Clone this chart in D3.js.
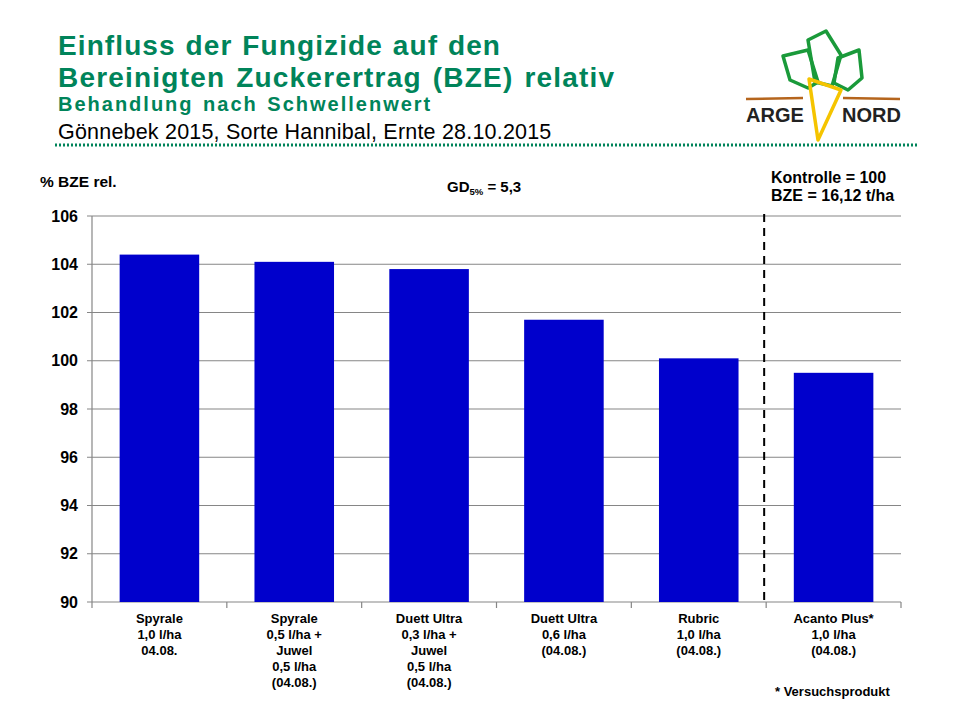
<!DOCTYPE html>
<html>
<head>
<meta charset="utf-8">
<script src="https://cdn.jsdelivr.net/npm/d3@7"></script>
<style>
  body { margin: 0; background: #fff; }
  text { font-family: 'Liberation Sans', Arial, sans-serif; }
</style>
</head>
<body>
<div id="chart"></div>
<script>
const categories = [
  ['Spyrale', '1,0 l/ha', '04.08.'],
  ['Spyrale', '0,5 l/ha +', 'Juwel', '0,5 l/ha', '(04.08.)'],
  ['Duett Ultra', '0,3 l/ha +', 'Juwel', '0,5 l/ha', '(04.08.)'],
  ['Duett Ultra', '0,6 l/ha', '(04.08.)'],
  ['Rubric', '1,0 l/ha', '(04.08.)'],
  ['Acanto Plus*', '1,0 l/ha', '(04.08.)']
]
const values = [104.4, 104.1, 103.8, 101.7, 100.1, 99.5]
const yTicks = [90, 92, 94, 96, 98, 100, 102, 104, 106]

const width = 960
const height = 720
const margin = { top: 216, right: 59, bottom: 118, left: 92 }
const green = '#00845a'

const svg = d3.select('#chart').append('svg')
  .attr('width', width)
  .attr('height', height)

// header (letter spacing to get the wide look of the slide font)
const titles = [
  { t: 'Einfluss der Fungizide auf den', y: 55, size: 28, fill: green, w: 'bold', ls: 1.1, ws: 1 },
  { t: 'Bereinigten Zuckerertrag (BZE) relativ', y: 87, size: 28, fill: green, w: 'bold', ls: 1.2, ws: 2 },
  { t: 'Behandlung nach Schwellenwert', y: 111, size: 20, fill: green, w: 'bold', ls: 2, ws: 2 },
  { t: 'Gönnebek 2015, Sorte Hannibal,  Ernte 28.10.2015', y: 139, size: 21.5, fill: '#000', w: 'normal', ls: 0.2, ws: 0 }
]
svg.selectAll('text.title')
  .data(titles)
  .join('text')
  .attr('class', 'title')
  .attr('x', 58)
  .attr('y', d => d.y)
  .attr('font-size', d => d.size)
  .attr('font-weight', d => d.w)
  .attr('fill', d => d.fill)
  .style('letter-spacing', d => d.ls + 'px')
  .style('word-spacing', d => d.ws + 'px')
  .text(d => d.t)

svg.append('line')
  .attr('x1', 55).attr('x2', 918)
  .attr('y1', 145).attr('y2', 145)
  .attr('stroke', green)
  .attr('stroke-width', 3)
  .attr('stroke-dasharray', '2,2')

// logo
const logo = svg.append('g')
logo.append('path')
  .attr('d', 'M746,99 L803,98 M843,98 L900,99')
  .attr('stroke', '#b5651d').attr('stroke-width', 2.5).attr('fill', 'none')
const leaf = [
  'M783,56 L808,50 L818,82 L808,88 L790,80 Z',
  'M808,40 L826,31 L841,55 L832,86 L815,82 Z',
  'M838,58 L859,50 L862,78 L848,90 L834,83 Z'
]
logo.selectAll('path.leaf')
  .data(leaf)
  .join('path')
  .attr('class', 'leaf')
  .attr('d', d => d)
  .attr('fill', 'none')
  .attr('stroke', '#1a9a3a')
  .attr('stroke-width', 3.5)
  .attr('stroke-linejoin', 'round')
logo.append('path')
  .attr('d', 'M809,79 L841,90 L818,140 Z')
  .attr('fill', 'none')
  .attr('stroke', '#f5c400')
  .attr('stroke-width', 3.5)
  .attr('stroke-linejoin', 'round')
logo.append('text')
  .attr('x', 746).attr('y', 122)
  .attr('font-size', 20).attr('font-weight', 'bold').attr('fill', '#222')
  .text('ARGE')
logo.append('text')
  .attr('x', 842).attr('y', 122)
  .attr('font-size', 20).attr('font-weight', 'bold').attr('fill', '#222')
  .text('NORD')

// chart
const x = d3.scaleBand()
  .domain(d3.range(categories.length))
  .range([margin.left, width - margin.right])
  .paddingInner(0.41)
  .paddingOuter(0.205)

const y = d3.scaleLinear()
  .domain([90, 106])
  .range([height - margin.bottom, margin.top])

const bounds = svg.append('g')

bounds.selectAll('line.grid')
  .data(yTicks)
  .join('line')
  .attr('class', 'grid')
  .attr('x1', margin.left - 5)
  .attr('x2', width - margin.right)
  .attr('y1', d => y(d))
  .attr('y2', d => y(d))
  .attr('stroke', '#868686')
  .attr('stroke-width', 1.2)

bounds.append('line')
  .attr('x1', margin.left).attr('x2', margin.left)
  .attr('y1', y(106)).attr('y2', y(90))
  .attr('stroke', '#868686').attr('stroke-width', 1.2)

bounds.selectAll('text.ytick')
  .data(yTicks)
  .join('text')
  .attr('class', 'ytick')
  .attr('x', margin.left - 14)
  .attr('y', d => y(d) + 5.5)
  .attr('text-anchor', 'end')
  .attr('font-size', 16)
  .attr('font-weight', 'bold')
  .text(d => d)

// category boundary ticks on the x axis
const step = x.step()
const edges = d3.range(categories.length + 1).map(i => margin.left + i * step)
bounds.selectAll('line.xtick')
  .data(edges)
  .join('line')
  .attr('class', 'xtick')
  .attr('x1', d => d).attr('x2', d => d)
  .attr('y1', y(90)).attr('y2', y(90) + 6)
  .attr('stroke', '#868686').attr('stroke-width', 1.2)

bounds.selectAll('rect.bar')
  .data(values)
  .join('rect')
  .attr('class', 'bar')
  .attr('x', (d, i) => x(i))
  .attr('width', x.bandwidth())
  .attr('y', d => y(d))
  .attr('height', d => y(90) - y(d))
  .attr('fill', '#0000cc')

// x labels
const labels = bounds.selectAll('text.xlabel')
  .data(categories)
  .join('text')
  .attr('class', 'xlabel')
  .attr('text-anchor', 'middle')
  .attr('font-size', 13)
  .attr('font-weight', 'bold')
labels.selectAll('tspan')
  .data((d, i) => d.map(t => ({ t, i })))
  .join('tspan')
  .attr('x', d => x(d.i) + x.bandwidth() / 2)
  .attr('y', (d, j) => y(90) + 21 + j * 16)
  .text(d => d.t)

// separator between treatments and trial product
const sepX = edges[5] - 2
bounds.append('line')
  .attr('x1', sepX).attr('x2', sepX)
  .attr('y1', y(106) - 2).attr('y2', y(90))
  .attr('stroke', '#000')
  .attr('stroke-width', 2)
  .attr('stroke-dasharray', '8,6')

// annotations
svg.append('text')
  .attr('x', 40).attr('y', 187)
  .attr('font-size', 15.5).attr('font-weight', 'bold')
  .text('% BZE rel.')

const gd = svg.append('text')
  .attr('x', 447).attr('y', 192)
  .attr('font-size', 15).attr('font-weight', 'bold')
gd.append('tspan').text('GD')
gd.append('tspan').attr('font-size', 9.5).attr('dy', 3).text('5%')
gd.append('tspan').attr('dy', -3).text(' = 5,3')

svg.append('text')
  .attr('x', 771).attr('y', 183)
  .attr('font-size', 16).attr('font-weight', 'bold')
  .text('Kontrolle = 100')
svg.append('text')
  .attr('x', 771).attr('y', 201)
  .attr('font-size', 16).attr('font-weight', 'bold')
  .text('BZE = 16,12 t/ha')

svg.append('text')
  .attr('x', 775).attr('y', 696)
  .attr('font-size', 13).attr('font-weight', 'bold')
  .text('* Versuchsprodukt')
</script>
</body>
</html>
